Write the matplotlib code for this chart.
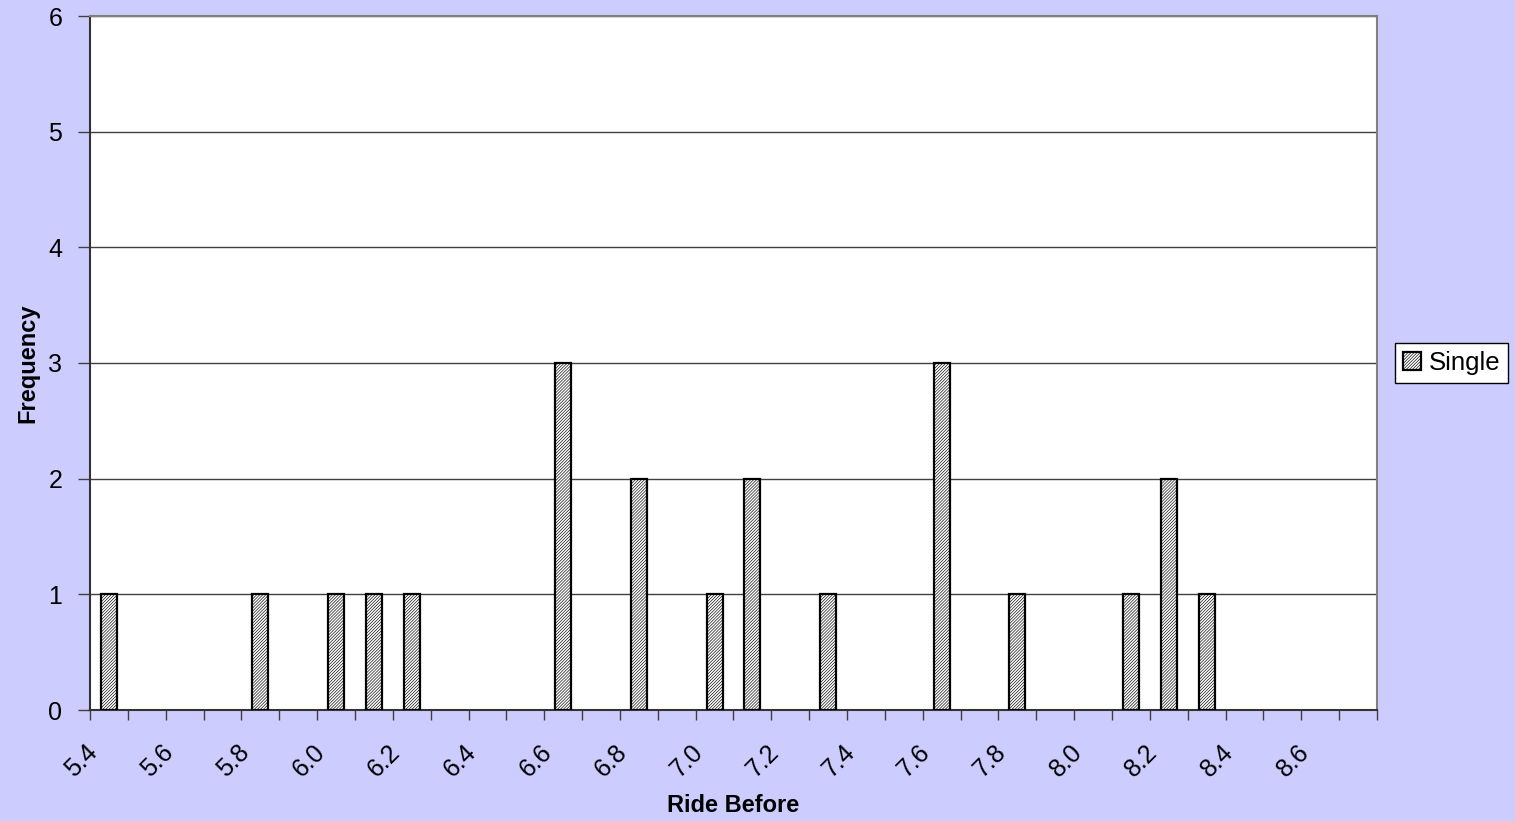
import numpy as np
import matplotlib
matplotlib.use("Agg")
import matplotlib.pyplot as plt
import matplotlib.transforms as mtransforms

# histogram bins (Ride Before) and counts for the "Single" series
bins = ["5.4", "5.5", "5.6", "5.7", "5.8", "5.9", "6.0", "6.1", "6.2", "6.3",
        "6.4", "6.5", "6.6", "6.7", "6.8", "6.9", "7.0", "7.1", "7.2", "7.3",
        "7.4", "7.5", "7.6", "7.7", "7.8", "7.9", "8.0", "8.1", "8.2", "8.3",
        "8.4", "8.5", "8.6", "8.7"]
single = [1, 0, 0, 0, 1, 0, 1, 1, 1, 0,
          0, 0, 3, 0, 2, 0, 1, 2, 0, 1,
          0, 0, 3, 0, 1, 0, 0, 1, 2, 1,
          0, 0, 0, 0]
yticks = [0, 1, 2, 3, 4, 5, 6]

plt.rcParams['font.family'] = ['Liberation Sans', 'DejaVu Sans']
plt.rcParams['hatch.linewidth'] = 0.45

bg = '#CCCCFF'
fig = plt.figure(figsize=(15.15, 8.21), dpi=100, facecolor=bg)
ax = fig.add_axes([90/1515, 1-710/821, (1377-90)/1515, (710-16)/821])
ax.set_facecolor('white')

x = np.arange(len(bins))
vals = np.array(single)
nz = vals > 0   # empty bins draw nothing
ax.bar(x[nz], vals[nz], width=0.42, color='white', edgecolor='black',
       linewidth=1.6, hatch='/' * 11, label='Single', zorder=3)

ax.set_xlim(-0.5, len(bins) - 0.5)
ax.set_ylim(0, 6)
ax.set_yticks(yticks)
ax.yaxis.grid(True, color='#404040', linewidth=1.0, zorder=0)

# major ticks at bin edges (no labels), labels on every other bin center
ax.set_xticks(np.arange(-0.5, len(bins), 1))
ax.set_xticklabels([])
ax.set_xticks(x[::2], bins[::2], minor=True)
ax.tick_params(axis='x', which='major', length=7, width=1, color='#404040', direction='out')
ax.tick_params(axis='x', which='minor', length=0, pad=28, labelsize=18)
ax.tick_params(axis='y', length=9, width=1, color='#404040', pad=11, labelsize=18)
off = mtransforms.ScaledTranslation(-15/100, 0, fig.dpi_scale_trans)
for lab in ax.get_xticklabels(minor=True):
    lab.set_rotation(45)
    lab.set_ha('right')
    lab.set_va('center')
    lab.set_rotation_mode('anchor')
    lab.set_transform(lab.get_transform() + off)

for s in ['left', 'bottom']:
    ax.spines[s].set_color('#333333')
    ax.spines[s].set_linewidth(1.5)
for s in ['top', 'right']:
    ax.spines[s].set_color('#808080')
    ax.spines[s].set_linewidth(1.5)

ax.set_xlabel('Ride Before', fontsize=17, fontweight='bold')
ax.xaxis.set_label_coords(0.5, -0.121)
ax.set_ylabel('Frequency', fontsize=17, fontweight='bold')
ax.yaxis.set_label_coords(-0.039, 0.5)

leg = ax.legend(loc='center left', bbox_to_anchor=(1395/1515, 1-363/821),
                bbox_transform=fig.transFigure, fancybox=False, fontsize=18.5,
                handlelength=0.7, handleheight=0.7, handletextpad=0.3,
                borderpad=0.3, borderaxespad=0, framealpha=1)
leg.get_frame().set_edgecolor('black')
leg.get_frame().set_linewidth(1.0)

fig.savefig('out.png', dpi=100, facecolor=bg)
